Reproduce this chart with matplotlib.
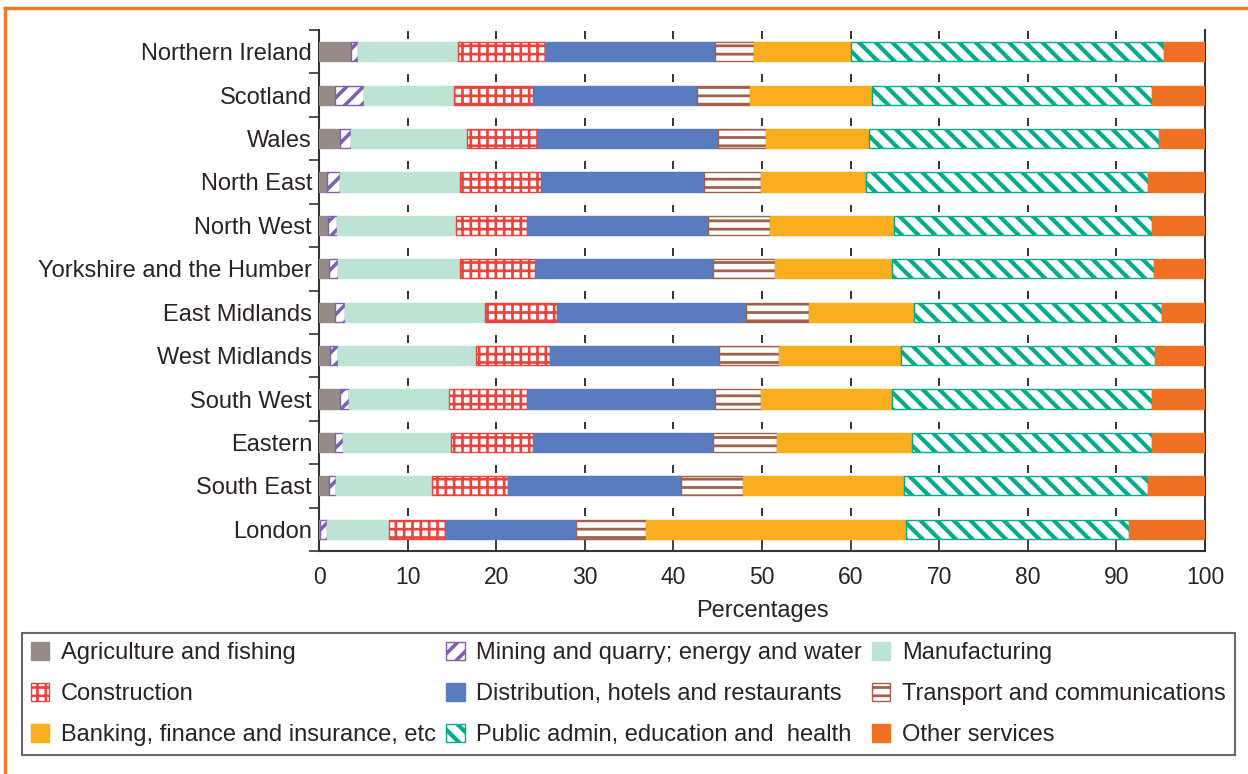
import matplotlib
matplotlib.use("Agg")
import matplotlib as mpl
import matplotlib.pyplot as plt
from matplotlib.lines import Line2D
import numpy as np

regions = ["Northern Ireland", "Scotland", "Wales", "North East", "North West",
           "Yorkshire and the Humber", "East Midlands", "West Midlands",
           "South West", "Eastern", "South East", "London"]

sectors = ["Agriculture and fishing", "Mining and quarry; energy and water",
           "Manufacturing", "Construction", "Distribution, hotels and restaurants",
           "Transport and communications", "Banking, finance and insurance, etc",
           "Public admin, education and  health", "Other services"]

agri = [3.6, 1.8, 2.4, 0.9, 1.0, 1.1, 1.8, 1.2, 2.4, 1.8, 1.1, 0.1]
mining = [0.8, 3.3, 1.2, 1.5, 1.0, 1.1, 1.1, 1.0, 1.0, 0.9, 0.8, 0.8]
manuf = [11.3, 10.1, 13.1, 13.5, 13.5, 13.7, 15.8, 15.5, 11.3, 12.2, 10.9, 7.0]
constr = [9.8, 8.9, 8.0, 9.2, 8.0, 8.5, 8.2, 8.4, 8.8, 9.2, 8.5, 6.4]
dist = [19.2, 18.6, 20.3, 18.4, 20.4, 20.1, 21.3, 19.0, 21.2, 20.4, 19.6, 14.7]
transport = [4.4, 5.9, 5.5, 6.4, 7.0, 7.0, 7.1, 6.8, 5.2, 7.2, 7.0, 7.9]
banking = [11.0, 13.8, 11.6, 11.8, 14.0, 13.2, 11.8, 13.8, 14.8, 15.2, 18.1, 29.4]
public = [35.3, 31.6, 32.7, 31.9, 29.1, 29.5, 28.1, 28.7, 29.3, 27.1, 27.6, 25.1]
other = [4.6, 6.0, 5.2, 6.4, 6.0, 5.8, 4.8, 5.6, 6.0, 6.0, 6.4, 8.6]

series = [agri, mining, manuf, constr, dist, transport, banking, public, other]

# style: (facecolor, edgecolor, hatch, hatch linewidth)
styles = [
    ("#958b87", "#958b87", None, 1.0),
    ("white", "#7d60b0", "//", 2.6),
    ("#bce3d4", "#bce3d4", None, 1.0),
    ("white", "#e9433b", "++", 1.9),
    ("#5a7bbd", "#5a7bbd", None, 1.0),
    ("white", "#a0614c", "--", 2.0),
    ("#f9ae1f", "#f9ae1f", None, 1.0),
    ("white", "#00ab8a", "\\\\", 3.0),
    ("#f07124", "#f07124", None, 1.0),
]

TXT = "#2b2222"
plt.rcParams["font.family"] = ["Liberation Sans", "DejaVu Sans"]
plt.rcParams["text.color"] = TXT
plt.rcParams["hatch.linewidth"] = 2.2


def set_hlw(artist, lw):
    if hasattr(artist, "set_hatch_linewidth"):
        artist.set_hatch_linewidth(lw)
    else:
        artist._hatch_linewidth = lw


fig = plt.figure(figsize=(12.48, 7.74), dpi=100)
ax = fig.add_axes([319 / 1248, 1 - 551 / 774, (1205 - 319) / 1248, (551 - 30) / 774])

y = np.arange(len(regions))
left = np.zeros(len(regions))
handles = []
for vals, (fc, ec, hatch, hlw) in zip(series, styles):
    with mpl.rc_context({"hatch.linewidth": hlw}):
        bars = ax.barh(y, vals, left=left, height=0.44, color=fc, edgecolor=ec,
                       hatch=hatch, linewidth=1.0, zorder=3)
    for b in bars:
        set_hlw(b, hlw)
    handles.append(bars)
    left = left + np.array(vals)

# short dashed grid marks between rows
for xv in range(10, 100, 10):
    for bnd in np.arange(-0.5, 11.0, 1.0):
        ax.plot([xv, xv], [bnd + 0.02, bnd + 0.2], color="#333333", lw=1.4, zorder=1,
                solid_capstyle="butt")

ax.set_xlim(0, 100)
ax.set_ylim(11.5, -0.5)
ax.set_xticks(range(0, 101, 10))
ax.set_yticks(y)
ax.set_yticklabels(regions, fontsize=17, color=TXT)
ax.set_yticks(np.arange(-0.5, 12.0, 1.0), minor=True)
ax.tick_params(axis="y", which="major", length=0, pad=5)
ax.tick_params(axis="y", which="minor", length=7, width=1.2, color="#333333", direction="out")
ax.tick_params(axis="x", which="major", length=8, width=1.3, color="#333333",
               direction="in", pad=11, labelsize=16.5, labelcolor=TXT)
ax.set_xlabel("Percentages", fontsize=17, color=TXT, labelpad=8)
for s in ["left", "bottom", "right"]:
    ax.spines[s].set_color("#333333")
    ax.spines[s].set_linewidth(1.5)
ax.spines["top"].set_visible(False)

order = [0, 3, 6, 1, 4, 7, 2, 5, 8]
leg = fig.legend([handles[i] for i in order], [sectors[i] for i in order],
                 ncol=3, loc="upper left", bbox_to_anchor=(22 / 1248, 1 - 633 / 774),
                 fontsize=17, frameon=True, fancybox=False, handlelength=0.78,
                 handleheight=0.82, handletextpad=0.5, columnspacing=0.42,
                 labelspacing=0.78, borderpad=0.38, borderaxespad=0)
leg.get_frame().set_edgecolor("#4a4040")
leg.get_frame().set_linewidth(1.5)
for t in leg.get_texts():
    t.set_color(TXT)
for h, i in zip(leg.legend_handles, order):
    set_hlw(h, styles[i][3])

# orange frame (left and top)
fig.add_artist(Line2D([5 / 1248, 5 / 1248], [0, 1 - 8 / 774], color="#f07a2a", lw=2.5,
                      transform=fig.transFigure))
fig.add_artist(Line2D([5 / 1248, 1], [1 - 8 / 774, 1 - 8 / 774], color="#f07a2a", lw=2.5,
                      transform=fig.transFigure))

fig.savefig("out.png", dpi=100, facecolor="white")
